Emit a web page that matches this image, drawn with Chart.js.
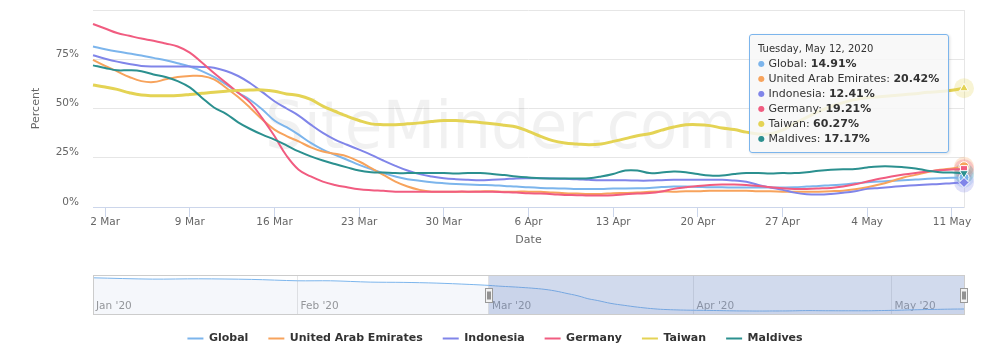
<!DOCTYPE html>
<html>
<head>
<meta charset="utf-8">
<script src="https://cdn.jsdelivr.net/npm/chart.js@4.4.1/dist/chart.umd.min.js"></script>
<style>
  html, body { margin: 0; padding: 0; background: #fff; }
  #wrap { position: relative; width: 990px; height: 361px; overflow: hidden; background: #fff; }
  #main { position: absolute; left: 0; top: 0; }
  #nav { position: absolute; left: 0; top: 270px; }
  #tip {
    position: absolute; display: none; white-space: nowrap;
    background: rgba(247,247,247,0.85); border: 1px solid #7cb5ec; border-radius: 3px;
    box-shadow: 1px 1px 3px rgba(0,0,0,0.12);
    padding: 6px 9px 6px 8px; font-family: "DejaVu Sans", sans-serif; color: #333;
  }
  #tip .t { font-size: 10px; line-height: 15px; height: 15px; }
  #tip .r { font-size: 11px; line-height: 15px; height: 15px; }
  #tip .b { font-size: 8px; line-height: 0; vertical-align: 1px; }
</style>
</head>
<body>
<div id="wrap">
  <canvas id="main" width="990" height="361" style="width:990px;height:361px"></canvas>
  <canvas id="nav" width="990" height="50" style="width:990px;height:50px"></canvas>
  <div id="tip"></div>
</div>
<script>
// ---------------- DATA ----------------
const startDate = [2020, 2, 1];           // 1 Mar 2020 (UTC, month 0-based)
const dayCount = 73;                      // 1 Mar .. 12 May

const globalValues = [
  81.5, 80.1, 78.9, 77.9, 76.9, 75.7, 74.5, 73.0, 71.3, 69.0,
  66.0, 62.2, 58.0, 54.3, 49.5, 43.9, 40.5, 36.7, 32.5, 29.1,
  26.5, 24.0, 21.4, 19.2, 17.2, 15.5, 14.1, 13.3, 12.6, 12.1,
  11.7, 11.4, 11.2, 11.1, 10.7, 10.4, 10.0, 9.7, 9.5, 9.4,
  9.2, 9.2, 9.2, 9.4, 9.4, 9.5, 9.7, 10.1, 10.4, 10.4,
  10.2, 10.0, 10.0, 9.9, 9.9, 9.9, 9.9, 9.9, 10.0, 10.4,
  10.7, 11.1, 11.4, 12.0, 12.6, 12.9, 13.3, 13.6, 13.9, 14.3,
  14.6, 14.8, 14.91
];
const uaeValues = [
  74.7, 71.6, 68.8, 66.0, 63.9, 63.4, 64.8, 66.0, 66.5, 66.5,
  64.8, 60.5, 55.8, 50.3, 44.4, 39.3, 36.0, 33.3, 30.3, 28.2,
  27.0, 25.7, 23.1, 19.7, 16.3, 12.9, 10.4, 8.7, 7.8, 7.8,
  7.8, 7.8, 7.9, 8.0, 7.8, 7.8, 7.8, 7.7, 7.3, 7.0,
  6.8, 6.6, 6.6, 7.0, 7.1, 7.3, 7.7, 7.9, 7.8, 8.0,
  8.0, 8.2, 8.2, 8.2, 8.2, 8.0, 8.0, 7.8, 7.7, 7.7,
  7.8, 8.0, 8.3, 9.0, 10.0, 11.4, 13.1, 15.0, 16.3, 17.7,
  18.9, 19.6, 20.42
];
const indonesiaValues = [
  77.0, 75.3, 73.8, 72.6, 71.6, 71.3, 71.3, 71.3, 71.3, 71.1,
  70.7, 69.0, 66.5, 62.8, 58.3, 53.7, 50.0, 46.4, 41.8, 37.6,
  34.2, 31.6, 29.1, 26.5, 23.6, 20.9, 18.5, 16.7, 15.5, 14.6,
  14.1, 13.8, 13.6, 13.8, 14.1, 14.5, 14.6, 14.6, 14.5, 14.3,
  14.1, 13.8, 13.6, 13.6, 13.6, 13.4, 13.4, 13.6, 13.8, 13.8,
  13.8, 13.8, 13.8, 13.4, 12.8, 11.2, 9.9, 8.7, 7.3, 6.5,
  6.3, 6.6, 7.2, 8.0, 9.2, 9.7, 10.2, 10.7, 11.1, 11.4,
  11.7, 12.1, 12.41
];
const germanyValues = [
  92.9, 90.6, 88.3, 86.9, 85.5, 84.4, 83.0, 81.5, 78.4, 73.3,
  68.0, 63.0, 58.0, 53.0, 45.0, 36.0, 26.0, 18.9, 15.5, 12.9,
  11.2, 10.0, 9.0, 8.5, 8.2, 7.8, 7.7, 7.7, 7.7, 7.7,
  7.8, 7.8, 7.7, 7.7, 7.5, 7.3, 7.0, 6.8, 6.5, 6.1,
  6.0, 5.8, 5.8, 6.0, 6.5, 6.8, 7.1, 7.9, 9.2, 10.0,
  10.7, 11.2, 11.4, 11.4, 11.2, 10.7, 10.0, 9.5, 9.2, 9.2,
  9.4, 9.7, 10.4, 11.5, 12.9, 14.3, 15.5, 16.5, 17.3, 18.0,
  18.7, 19.0, 19.21
];
const taiwanValues = [
  61.9, 60.9, 59.7, 58.0, 56.8, 56.5, 56.5, 56.6, 57.1, 57.7,
  58.3, 58.8, 59.2, 59.4, 59.4, 58.8, 57.4, 56.6, 54.6, 51.2,
  48.6, 46.1, 43.9, 42.2, 41.8, 41.8, 42.2, 42.7, 43.4, 43.9,
  43.9, 43.4, 42.9, 42.3, 41.5, 40.6, 38.4, 35.9, 33.7, 32.5,
  32.0, 31.6, 32.0, 33.3, 34.7, 36.2, 37.2, 39.0, 40.6, 41.7,
  41.8, 41.3, 40.1, 39.3, 38.0, 37.0, 37.2, 39.0, 42.5, 45.5,
  48.5, 51.0, 53.0, 54.5, 55.5, 56.0, 56.5, 57.0, 57.5, 58.2,
  58.6, 59.3, 60.27
];
const maldivesValues = [
  71.9, 70.6, 69.4, 69.4, 68.9, 67.3, 66.0, 63.9, 60.7, 55.5,
  50.5, 47.3, 43.0, 39.6, 36.7, 34.2, 31.3, 28.2, 25.7, 23.6,
  21.8, 20.1, 18.5, 17.7, 17.5, 17.2, 17.2, 17.2, 17.2, 17.2,
  17.0, 17.2, 17.2, 16.8, 16.2, 15.5, 15.0, 14.6, 14.5, 14.5,
  14.5, 14.6, 15.5, 16.8, 18.5, 18.5, 17.2, 17.5, 18.0, 17.7,
  16.7, 16.0, 16.0, 16.7, 17.2, 17.2, 17.0, 17.2, 17.2, 17.7,
  18.4, 18.9, 19.2, 19.3, 20.1, 20.6, 20.6, 20.2, 19.6, 18.4,
  17.7, 17.5, 17.17
];

const seriesNames = ['Global', 'United Arab Emirates', 'Indonesia', 'Germany', 'Taiwan', 'Maldives'];
const seriesValues = [globalValues, uaeValues, indonesiaValues, germanyValues, taiwanValues, maldivesValues];

const navEarlyDays = [-60, -51, -44, -36, -29, -24, -18, -13, -8, -3];
const navEarlyGlobal = [102.9, 99.2, 100.1, 98.4, 94.5, 94.5, 90.8, 90.0, 88.0, 84.3];
const navMonthDays = [-60, -29, 0, 31, 61];
const navMonthLabels = ["Jan '20", "Feb '20", "Mar '20", "Apr '20", "May '20"];

const yTicks = [0, 25, 50, 75, 100];
const watermarkText = 'SiteMinder.com';

// ---------------- STYLE ----------------
const FONT = '"DejaVu Sans", sans-serif';
const seriesColors = ['#7cb5ec', '#f7a35c', '#8085e9', '#f15c80', '#e4d354', '#2b908f'];
const markerStyles = ['circle', 'circle', 'rectRot', 'rect', 'triangle', 'triangle'];
const markerRotation = [0, 0, 0, 0, 0, 180];
const hoveredSeries = 4;

Chart.defaults.font.family = FONT;
Chart.defaults.color = '#666';

const last = dayCount - 1;
const monthShort = ['Jan','Feb','Mar','Apr','May','Jun','Jul','Aug','Sep','Oct','Nov','Dec'];
const categories = [];
for (let i = 0; i < dayCount; i++) {
  categories.push(new Date(Date.UTC(startDate[0], startDate[1], startDate[2] + i)));
}
const tickLabel = i => categories[i].getUTCDate() + ' ' + monthShort[categories[i].getUTCMonth()];
const longDate = i => categories[i].toLocaleDateString('en-US',
  { weekday: 'long', year: 'numeric', month: 'long', day: 'numeric', timeZone: 'UTC' });
const isLabelTick = i => i >= 1 && (i - 1) % 7 === 0;

function rgba(hex, a) {
  const n = parseInt(hex.slice(1), 16);
  return `rgba(${(n >> 16) & 255},${(n >> 8) & 255},${n & 255},${a})`;
}

// ---------------- MAIN CHART ----------------
const decorPlugin = {
  id: 'decor',
  beforeDatasetsDraw(chart) {
    const { ctx, chartArea: a } = chart;
    // watermark
    ctx.save();
    ctx.font = '66px ' + FONT;
    const w = ctx.measureText(watermarkText).width;
    ctx.translate(a.left + 172, a.top + 138);
    ctx.scale(472 / w, 1);
    ctx.fillStyle = 'rgba(0,0,0,0.055)';
    ctx.textBaseline = 'alphabetic';
    ctx.fillText(watermarkText, 0, 0);
    ctx.restore();
    // hover halos
    ctx.save();
    chart.data.datasets.forEach((ds, i) => {
      const pt = chart.getDatasetMeta(i).data[last];
      if (!pt) return;
      ctx.beginPath();
      ctx.arc(pt.x, pt.y, 10, 0, Math.PI * 2);
      ctx.fillStyle = rgba(seriesColors[i], 0.25);
      ctx.fill();
    });
    ctx.restore();
  }
};

function renderTip({ chart, tooltip }) {
  const el = document.getElementById('tip');
  const pts = (tooltip.dataPoints || []).slice().sort((a, b) => a.datasetIndex - b.datasetIndex);
  if (!pts.length) { el.style.display = 'none'; return; }
  const idx = pts[0].dataIndex;
  let html = `<div class="t">${longDate(idx)}</div>`;
  pts.forEach(p => {
    html += `<div class="r"><span class="b" style="color:${seriesColors[p.datasetIndex]}">\u25CF</span> ` +
            `${p.dataset.label}: <b>${Number(p.raw).toFixed(2)}%</b></div>`;
  });
  el.innerHTML = html;
  el.style.display = 'block';
  el.style.left = (tooltip.caretX - 15 - el.offsetWidth) + 'px';
  el.style.top = (chart.chartArea.top + 24) + 'px';
}

const mainChart = new Chart(document.getElementById('main'), {
  type: 'line',
  data: {
    labels: categories.map((d, i) => i),
    datasets: seriesNames.map((name, i) => ({
      label: name,
      data: seriesValues[i],
      borderColor: seriesColors[i],
      backgroundColor: seriesColors[i],
      borderWidth: i === hoveredSeries ? 3 : 2,
      tension: 0.4,
      fill: false,
      clip: false,
      order: seriesNames.length - i,
      pointStyle: markerStyles[i],
      pointRotation: markerRotation[i],
      pointRadius: ctx => (ctx.dataIndex === last ? 5 : 0),
      pointHoverRadius: ctx => (ctx.dataIndex === last ? 5 : 0),
      pointBackgroundColor: seriesColors[i],
      pointBorderColor: '#ffffff',
      pointBorderWidth: 1
    }))
  },
  options: {
    responsive: false,
    animation: false,
    events: [],
    layout: { padding: { left: 0, right: 0, top: 10, bottom: 7 } },
    interaction: { mode: 'index', intersect: false },
    plugins: {
      legend: {
        position: 'bottom',
        align: 'center',
        labels: {
          boxWidth: 16, boxHeight: 2, padding: 20, color: '#333',
          font: { size: 11, weight: 'bold' },
          sort: (a, b) => a.datasetIndex - b.datasetIndex,
          generateLabels: chart => chart.data.datasets.map((ds, i) => ({
            text: ds.label, fillStyle: seriesColors[i], strokeStyle: seriesColors[i],
            lineWidth: 0, hidden: false, datasetIndex: i, fontColor: '#333'
          }))
        }
      },
      tooltip: { enabled: false, mode: 'index', intersect: false, external: renderTip }
    },
    scales: {
      x: {
        type: 'category',
        offset: false,
        ticks: {
          autoSkip: false, maxRotation: 0, minRotation: 0, padding: -1,
          color: '#666', font: { size: 10.5 },
          callback: (v, i) => (isLabelTick(i) ? tickLabel(i) : '')
        },
        grid: {
          drawOnChartArea: false, drawTicks: true, tickLength: 10, lineWidth: 1,
          color: ctx => (isLabelTick(ctx.index) ? '#ccd6eb' : 'rgba(0,0,0,0)')
        },
        border: { display: true, color: '#ccd6eb', width: 1 },
        title: { display: true, text: 'Date', color: '#666', font: { size: 11 }, padding: { top: 0, bottom: 66 } },
        afterFit: s => { s.height = 106; }
      },
      y: {
        position: 'left',
        min: yTicks[0], max: yTicks[yTicks.length - 1],
        afterBuildTicks: s => { s.ticks = yTicks.map(v => ({ value: v })); },
        ticks: {
          padding: 0, labelOffset: -5, color: '#666', font: { size: 10.5 },
          callback: v => (v === yTicks[yTicks.length - 1] ? '' : v + '%')
        },
        grid: { color: '#e6e6e6', drawTicks: true, tickLength: 14, tickColor: 'rgba(0,0,0,0)', lineWidth: 1 },
        border: { display: false },
        title: { display: true, text: 'Percent', color: '#666', font: { size: 11 }, padding: { top: 30, bottom: 0 } },
        afterFit: s => { s.width = 93; }
      },
      frame: {
        type: 'linear',
        position: 'right',
        display: true,
        grid: { display: false, drawTicks: false },
        ticks: { display: false },
        border: { display: true, color: '#e6e6e6', width: 1 },
        afterFit: s => { s.width = 26; }
      }
    }
  },
  plugins: [decorPlugin]
});

const activeEls = seriesValues.map((_, i) => ({ datasetIndex: i, index: last }));
mainChart.tooltip.setActiveElements(activeEls, {
  x: mainChart.scales.x.getPixelForValue(last), y: mainChart.chartArea.top
});
mainChart.update();

// ---------------- NAVIGATOR ----------------
const selectedRange = [0, last];
const navPoints = navEarlyDays.map((d, i) => ({ x: d, y: navEarlyGlobal[i] }))
  .concat(globalValues.map((v, i) => ({ x: i, y: v })));

const navPlugin = {
  id: 'navDecor',
  beforeDatasetsDraw(chart) {
    const { ctx, chartArea: a, scales: { x } } = chart;
    ctx.save();
    ctx.font = '10.5px ' + FONT;
    ctx.fillStyle = '#999';
    ctx.textBaseline = 'middle';
    ctx.textAlign = 'left';
    navMonthDays.forEach((d, i) => ctx.fillText(navMonthLabels[i], x.getPixelForValue(d) + 3, a.bottom - 8.5));
    ctx.restore();
  },
  afterDraw(chart) {
    const { ctx, chartArea: a, scales: { x } } = chart;
    const x0 = x.getPixelForValue(selectedRange[0]);
    const x1 = x.getPixelForValue(selectedRange[1]);
    ctx.save();
    ctx.fillStyle = 'rgba(102,133,194,0.3)';
    ctx.fillRect(x0, a.top, x1 - x0, a.bottom - a.top);
    ctx.strokeStyle = '#cccccc';
    ctx.lineWidth = 1;
    ctx.strokeRect(Math.round(a.left) + 0.5, Math.round(a.top) - 0.5,
                   Math.round(a.right - a.left), Math.round(a.bottom - a.top));
    [x0, x1].forEach(hx => {
      const L = Math.round(hx - 4) + 0.5, T = Math.round(a.top + 12) + 0.5;
      ctx.fillStyle = '#f2f2f2';
      ctx.strokeStyle = '#999999';
      ctx.fillRect(L, T, 7, 14);
      ctx.strokeRect(L, T, 7, 14);
      ctx.strokeStyle = '#333333';
      ctx.beginPath();
      ctx.moveTo(L + 2.5, T + 3); ctx.lineTo(L + 2.5, T + 11);
      ctx.moveTo(L + 4.5, T + 3); ctx.lineTo(L + 4.5, T + 11);
      ctx.stroke();
    });
    ctx.restore();
  }
};

new Chart(document.getElementById('nav'), {
  type: 'line',
  data: {
    datasets: [{
      data: navPoints,
      borderColor: '#7cb5ec',
      borderWidth: 1,
      backgroundColor: 'rgba(51,92,173,0.05)',
      fill: 'start',
      pointRadius: 0,
      tension: 0.3
    }]
  },
  options: {
    responsive: false,
    animation: false,
    events: [],
    layout: { padding: { left: 93, right: 26, top: 6, bottom: 5 } },
    plugins: { legend: { display: false }, tooltip: { enabled: false } },
    scales: {
      x: {
        type: 'linear', min: navMonthDays[0], max: last,
        afterBuildTicks: s => { s.ticks = navMonthDays.map(v => ({ value: v })); },
        ticks: { display: false },
        grid: { color: '#e6e6e6', drawTicks: false, lineWidth: 1 },
        border: { display: false },
        afterFit: s => { s.height = 0; }
      },
      y: { display: false, min: -2, max: 108 }
    }
  },
  plugins: [navPlugin]
});
</script>
</body>
</html>
